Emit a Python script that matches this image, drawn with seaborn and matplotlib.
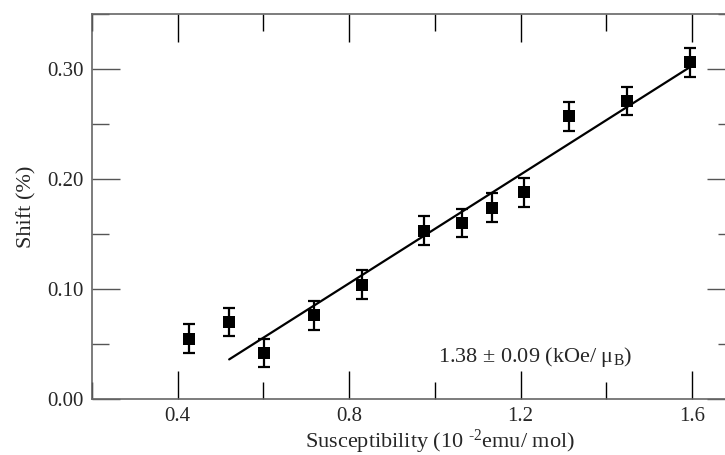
import matplotlib
matplotlib.use("Agg")
import matplotlib.pyplot as plt
import seaborn as sns
import pandas as pd
from matplotlib.ticker import MultipleLocator

# data
susceptibility = [0.427, 0.520, 0.602, 0.717, 0.831, 0.974, 1.062, 1.133, 1.208, 1.312, 1.447, 1.595]
shift = [0.055, 0.070, 0.042, 0.076, 0.104, 0.153, 0.160, 0.174, 0.188, 0.257, 0.271, 0.306]
shift_err = [0.013, 0.013, 0.013, 0.013, 0.013, 0.013, 0.013, 0.013, 0.013, 0.013, 0.013, 0.013]
fit_x = [0.52, 1.60]
fit_y = [0.036, 0.303]
x_ticks = [0.4, 0.8, 1.2, 1.6]
x_ticklabels = ["0.4", "0.8", "1.2", "1.6"]
y_ticks = [0.0, 0.1, 0.2, 0.3]
y_ticklabels = ["0.00", "0.10", "0.20", "0.30"]
annotation = r"1.38 ± 0.09 (kOe/ μ$_{\rm B}$)"

sns.set_style("ticks")
plt.rcParams['font.family'] = ['Liberation Serif', 'DejaVu Serif']
plt.rcParams['mathtext.fontset'] = 'custom'
plt.rcParams['mathtext.rm'] = 'Liberation Serif'
plt.rcParams['mathtext.it'] = 'Liberation Serif:italic'
plt.rcParams['mathtext.bf'] = 'Liberation Serif:bold'

df = pd.DataFrame({"x": susceptibility, "y": shift, "err": shift_err})
fit = pd.DataFrame({"x": fit_x, "y": fit_y})

fig = plt.figure(figsize=(7.25, 4.55), dpi=100)
ax = fig.add_axes([92/725, 1-399/455, (735-92)/725, (399-14)/455])

ax.errorbar(df["x"], df["y"], yerr=df["err"], fmt="none", ecolor="black",
            elinewidth=1.6, capsize=4.4, capthick=1.6, zorder=2)
sns.scatterplot(data=df, x="x", y="y", marker="s", s=75, color="black",
                edgecolor="black", linewidth=0, ax=ax, zorder=3)
sns.lineplot(data=fit, x="x", y="y", color="black", linewidth=1.6, ax=ax, zorder=4)

ax.set_xlim(0.2, 1.7)
ax.set_ylim(0.0, 0.35)
ax.set_xticks(x_ticks)
ax.set_xticklabels(x_ticklabels)
ax.set_yticks(y_ticks)
ax.set_yticklabels(y_ticklabels)
ax.xaxis.set_minor_locator(MultipleLocator(0.2))
ax.yaxis.set_minor_locator(MultipleLocator(0.05))

ax.tick_params(which="major", direction="in", length=20, width=1, top=True, right=True,
               labelsize=15, color="#555555", pad=6)
ax.tick_params(which="minor", direction="in", length=12, width=1, top=True, right=True,
               color="#555555")
ax.tick_params(axis="x", which="both", color="black")
for sp in ax.spines.values():
    sp.set_visible(True)
    sp.set_color("#666666")
    sp.set_linewidth(1.2)

ax.set_xlabel(r"Susceptibility (10 $^{\text{-}2}$emu/ mol)", fontsize=16, labelpad=1)
ax.xaxis.set_label_coords((440 - 92) / 643, -0.075)
ax.set_ylabel("Shift (%)", fontsize=16, labelpad=8)

ax.text(1.233, 0.038, annotation, fontsize=16, ha="center", va="center")

fig.savefig("out.png", dpi=100)
